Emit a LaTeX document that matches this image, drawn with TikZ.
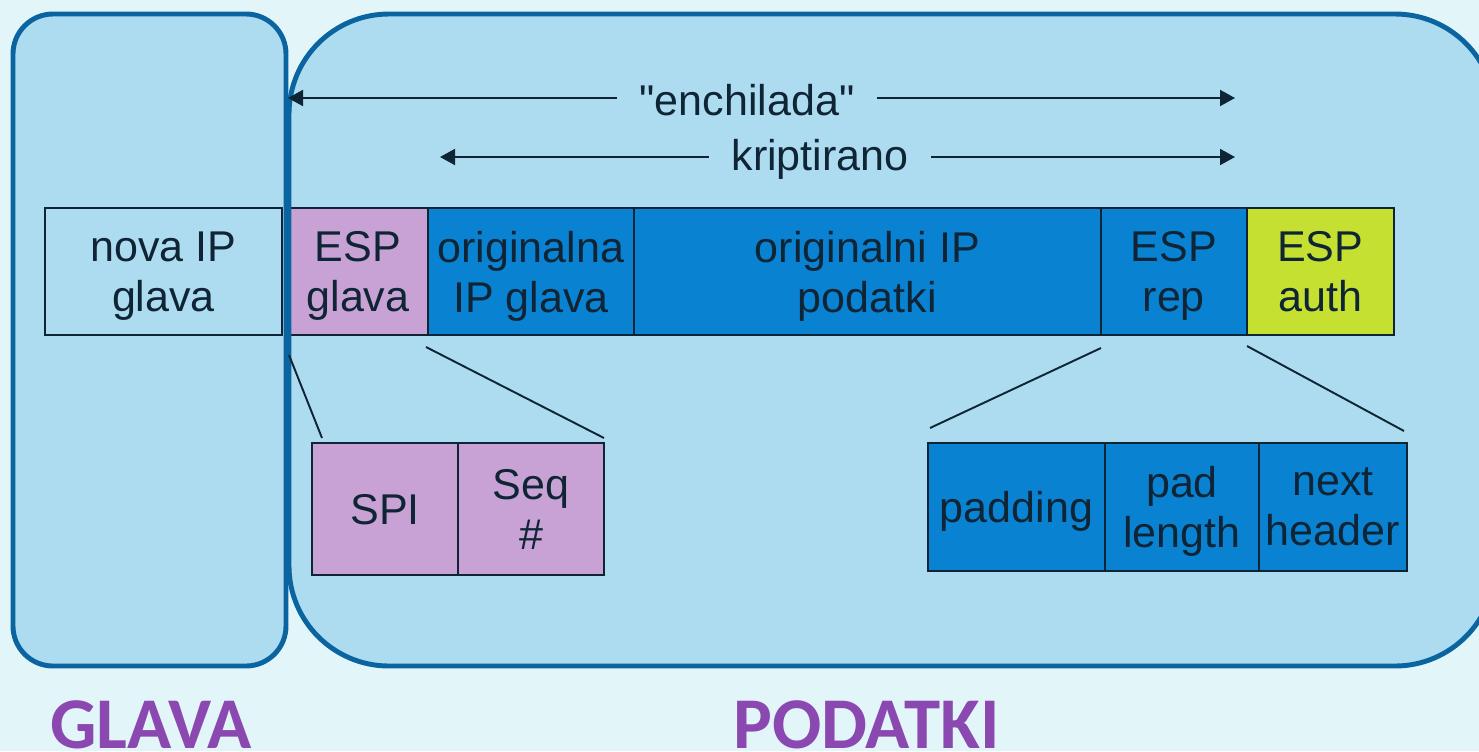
\documentclass[tikz,border=0pt]{standalone}
\usepackage{fontspec}
\setmainfont{Liberation Sans}
\newfontfamily\titlefont{Carlito}
\usetikzlibrary{positioning,arrows.meta}

\definecolor{bgcol}{HTML}{E2F6FA}
\definecolor{boxcol}{HTML}{ADDCF0}
\definecolor{framecol}{HTML}{0A64A0}
\definecolor{espcol}{HTML}{C8A2D4}
\definecolor{origcol}{HTML}{0A82D2}
\definecolor{authcol}{HTML}{C5E030}
\definecolor{inkcol}{HTML}{0F2535}
\definecolor{titlecol}{HTML}{8A48B0}

\def\linebox{\rule[-5.5pt]{0pt}{28.5pt}}

\begin{document}
\begin{tikzpicture}[x=0.02cm, y=-0.02cm,
  cell/.style={draw=inkcol, line width=1.2pt, minimum height=2.54cm, inner sep=0pt, outer sep=0pt,
    align=center, text=inkcol, font=\fontsize{24.5}{28.5}\selectfont, text depth=0pt},
  oneline/.style={text depth=, execute at begin node=\linebox, execute at end node=\linebox},
  subcell/.style={cell, minimum height=2.64cm},
  frame/.style={draw=framecol, line width=2.8pt},
  span/.style={draw=inkcol, line width=1.1pt, -{Triangle[length=0.3cm,width=0.32cm]}},
  spantext/.style={text=inkcol, inner xsep=0.45cm, font=\fontsize{24.5}{28.5}\selectfont},
  zoomline/.style={draw=inkcol, line width=1.1pt},
  title/.style={text=titlecol, inner sep=0pt, anchor=base west, font=\titlefont\bfseries\fontsize{41.5}{48}\selectfont}]

	\useasboundingbox[fill=bgcol] (0,0) rectangle (1479,751);

	% the two parts of the packet
	\fill[boxcol, rounded corners=0.8cm] (13,14) rectangle (286,666);
	\fill[boxcol, rounded corners=2cm] (289,14) rectangle (1495,666);

	% packet
	\node[cell, fill=boxcol, minimum width=4.74cm] (nova) at (163.5,271.5) {nova IP\\glava};
	\node[cell, fill=espcol, minimum width=2.8cm, right=0.12cm of nova] (espg) {ESP\\glava};
	\node[cell, fill=origcol, minimum width=4.12cm, right=0pt of espg] (origg) {originalna\\IP glava};
	\node[cell, fill=origcol, minimum width=9.34cm, right=0pt of origg] (origd) {originalni IP\\podatki};
	\node[cell, fill=origcol, minimum width=2.92cm, right=0pt of origd] (esprep) {ESP\\rep};
	\node[cell, fill=authcol, minimum width=2.94cm, right=0pt of esprep] (espauth) {ESP\\auth};

	% ESP glava in detail
	\node[subcell, oneline, fill=espcol, minimum width=2.92cm] (spi) at (385,509) {SPI};
	\node[subcell, fill=espcol, minimum width=2.92cm, right=0pt of spi] (seq) {Seq\\\#};

	% ESP rep in detail
	\node[subcell, oneline, fill=origcol, minimum width=3.54cm, minimum height=2.56cm] (pad) at (1016.5,507) {padding};
	\node[subcell, fill=origcol, minimum width=3.08cm, minimum height=2.56cm, right=0pt of pad] (padlen) {pad\\length};
	\node[subcell, fill=origcol, minimum width=2.96cm, minimum height=2.56cm, right=0pt of padlen] (nexth) {next\\header};

	\draw[frame, rounded corners=0.8cm] (13,14) rectangle (286,666);
	\draw[frame, rounded corners=2cm] (289,14) rectangle (1495,666);

	% spans
	\node[spantext] (ench) at (747,100) {\textquotedbl enchilada\textquotedbl};
	\coordinate (ench-l) at (288,98);
	\coordinate (ench-r) at (1235,98);
	\draw[span] (ench.west |- ench-l) -- (ench-l);
	\draw[span] (ench.east |- ench-r) -- (ench-r);

	\node[spantext] (kript) at (820,159) {kriptirano};
	\coordinate (kript-l) at (440,157);
	\coordinate (kript-r) at (1235,157);
	\draw[span] (kript.west |- kript-l) -- (kript-l);
	\draw[span] (kript.east |- kript-r) -- (kript-r);

	% zoom lines
	\coordinate (z1) at (289,355);
	\coordinate (z2) at (322,438);
	\coordinate (z3) at (426,347);
	\coordinate (z4) at (604,438);
	\coordinate (z5) at (1101,348);
	\coordinate (z6) at (930,428);
	\coordinate (z7) at (1247,346);
	\coordinate (z8) at (1404,431);
	\draw[zoomline] (z1) -- (z2);
	\draw[zoomline] (z3) -- (z4);
	\draw[zoomline] (z5) -- (z6);
	\draw[zoomline] (z7) -- (z8);

	\node[title] (glava) at (50,748) {GLAVA};
	\node[title] (podatki) at (733,748) {PODATKI};

\end{tikzpicture}
\end{document}
